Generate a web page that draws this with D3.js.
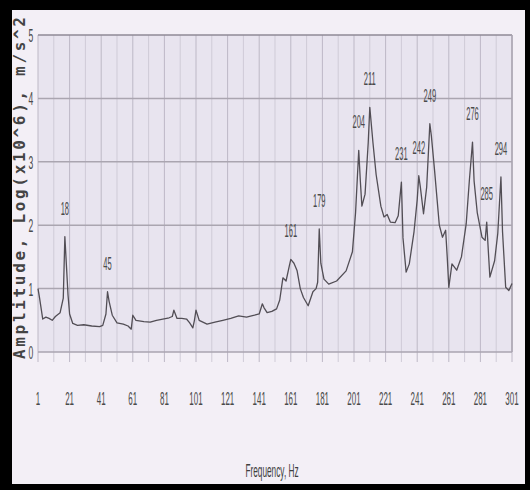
<!DOCTYPE html>
<html>
<head>
<meta charset="utf-8">
<script src="https://cdn.jsdelivr.net/npm/d3@7"></script>
<style>
  body { margin: 0; background: #000; }
  svg { display: block; }
</style>
</head>
<body>
<div id="chart"></div>
<script>
// spectrum (Hz, log amplitude)
const freqs = [1, 2, 4, 6, 8, 10, 12, 15, 17, 18, 20, 21, 23, 26, 30, 35, 40, 42, 44, 45, 46, 48, 51, 55, 58, 60, 61, 63, 68, 72, 76, 80, 84, 86, 87, 89, 92, 95, 97, 99, 100, 101, 103, 108, 113, 118, 123, 128, 133, 138, 141, 143, 144, 146, 149, 152, 154, 156, 158, 160, 161, 163, 165, 167, 169, 172, 175, 177, 178, 179, 180, 182, 185, 190, 196, 200, 202, 204, 205, 206, 208, 210, 211, 213, 215, 218, 220, 222, 224, 227, 229, 231, 232, 234, 236, 239, 241, 242, 243, 245, 247, 249, 250, 252, 255, 257, 259, 260, 261, 263, 266, 269, 272, 274, 276, 277, 279, 282, 284, 285, 286, 287, 290, 292, 294, 295, 297, 299, 301];
const amps = [1.0, 0.85, 0.52, 0.55, 0.53, 0.5, 0.56, 0.62, 0.85, 1.82, 0.9, 0.6, 0.45, 0.42, 0.43, 0.41, 0.4, 0.42, 0.6, 0.95, 0.8, 0.58, 0.46, 0.44, 0.41, 0.36, 0.58, 0.5, 0.48, 0.47, 0.5, 0.52, 0.54, 0.56, 0.66, 0.53, 0.53, 0.52, 0.46, 0.38, 0.5, 0.66, 0.5, 0.44, 0.47, 0.5, 0.53, 0.57, 0.55, 0.58, 0.6, 0.76, 0.7, 0.62, 0.64, 0.68, 0.82, 1.17, 1.12, 1.35, 1.46, 1.4, 1.28, 1.0, 0.86, 0.73, 0.95, 1.0, 1.1, 1.94, 1.4, 1.15, 1.07, 1.12, 1.28, 1.58, 2.2, 3.18, 2.7, 2.3, 2.49, 3.3, 3.86, 3.3, 2.8, 2.3, 2.13, 2.17, 2.05, 2.04, 2.15, 2.68, 1.8, 1.26, 1.39, 1.9, 2.4, 2.78, 2.6, 2.18, 2.6, 3.6, 3.4, 2.86, 2.0, 1.81, 1.92, 1.5, 1.02, 1.39, 1.29, 1.5, 2.02, 2.7, 3.31, 2.7, 2.2, 1.81, 1.76, 2.05, 1.6, 1.18, 1.44, 1.87, 2.76, 1.9, 1.02, 0.97, 1.08];
const peakFreqs = [18, 45, 161, 179, 204, 211, 231, 242, 249, 276, 285, 294];
const xTicks = [1, 21, 41, 61, 81, 101, 121, 141, 161, 181, 201, 221, 241, 261, 281, 301];
const yTicks = [0, 1, 2, 3, 4, 5];

const width = 530;
const height = 490;
const plotL = 38, plotR = 512, plotT = 35, plotB = 352;
const narrow = 'Liberation Sans, Arial, sans-serif';

const svg = d3.select('#chart').append('svg')
  .attr('width', width)
  .attr('height', height);

// black frame + paper
svg.append('rect').attr('width', width).attr('height', height).attr('fill', '#000');
svg.append('rect')
  .attr('x', 12).attr('y', 10).attr('width', 513).attr('height', 474)
  .attr('fill', '#f3eff6');

const x = d3.scaleLinear().domain([1, 301]).range([plotL, plotR]);
const y = d3.scaleLinear().domain([0, 5]).range([plotB, plotT]);

// plot area
svg.append('rect')
  .attr('x', plotL).attr('y', plotT)
  .attr('width', plotR - plotL).attr('height', plotB - plotT)
  .attr('fill', '#e8e4ef');

// vertical grid every 10 Hz, running a bit below the axis
svg.append('g').selectAll('line')
  .data(d3.range(1, 302, 10))
  .enter().append('line')
  .attr('x1', d => x(d)).attr('x2', d => x(d))
  .attr('y1', plotT).attr('y2', plotB + 10)
  .attr('stroke', d => (d - 1) % 20 === 0 ? '#bdb8c6' : '#cfcbd7')
  .attr('stroke-width', 1);

// horizontal grid
svg.append('g').selectAll('line')
  .data(yTicks)
  .enter().append('line')
  .attr('x1', plotL).attr('x2', plotR)
  .attr('y1', d => y(d)).attr('y2', d => y(d))
  .attr('stroke', d => d === 5 ? '#8f8a96' : '#aaa5b0')
  .attr('stroke-width', 1.5);

svg.append('line')
  .attr('x1', plotR).attr('x2', plotR).attr('y1', plotT).attr('y2', plotB)
  .attr('stroke', '#aaa5b0').attr('stroke-width', 1.5);

// spectrum line
const pts = freqs.map((f, i) => [f, amps[i]]);
const line = d3.line().x(d => x(d[0])).y(d => y(d[1]));
svg.append('path')
  .datum(pts)
  .attr('d', line)
  .attr('fill', 'none')
  .attr('stroke', '#524e55')
  .attr('stroke-width', 1.3)
  .attr('stroke-linejoin', 'round');

// squeezed text helper (the picture's font is very condensed)
function squeezed(g, px, py, txt, size, sx) {
  return g.append('text')
    .attr('transform', `translate(${px},${py}) scale(${sx},1)`)
    .attr('text-anchor', 'middle')
    .attr('font-family', narrow)
    .attr('font-size', size)
    .attr('fill', '#4a4a4a')
    .text(txt);
}

// peak labels
const labels = svg.append('g');
peakFreqs.forEach(f => {
  const a = amps[freqs.indexOf(f)];
  squeezed(labels, x(f), y(a) - 22, f, 18, 0.42);
});

// x tick labels
const xg = svg.append('g');
xTicks.forEach(t => squeezed(xg, x(t), 405, t, 19, 0.42));

// y tick labels
const yg = svg.append('g');
yTicks.forEach(t => squeezed(yg, 31, y(t) + 7, t, 19, 0.45));

// axis titles
squeezed(svg, 272, 477, 'Frequency, Hz', 18, 0.46).attr('fill', '#3e3e3e');

svg.append('text')
  .attr('transform', 'translate(25,188) rotate(-90)')
  .attr('text-anchor', 'middle')
  .attr('font-family', 'DejaVu Sans Mono, monospace')
  .attr('font-weight', 'bold')
  .attr('font-size', 16)
  .attr('fill', '#444')
  .attr('textLength', 342)
  .attr('lengthAdjust', 'spacing')
  .text('Amplitude, Log(x10^6), m/s^2');
</script>
</body>
</html>
